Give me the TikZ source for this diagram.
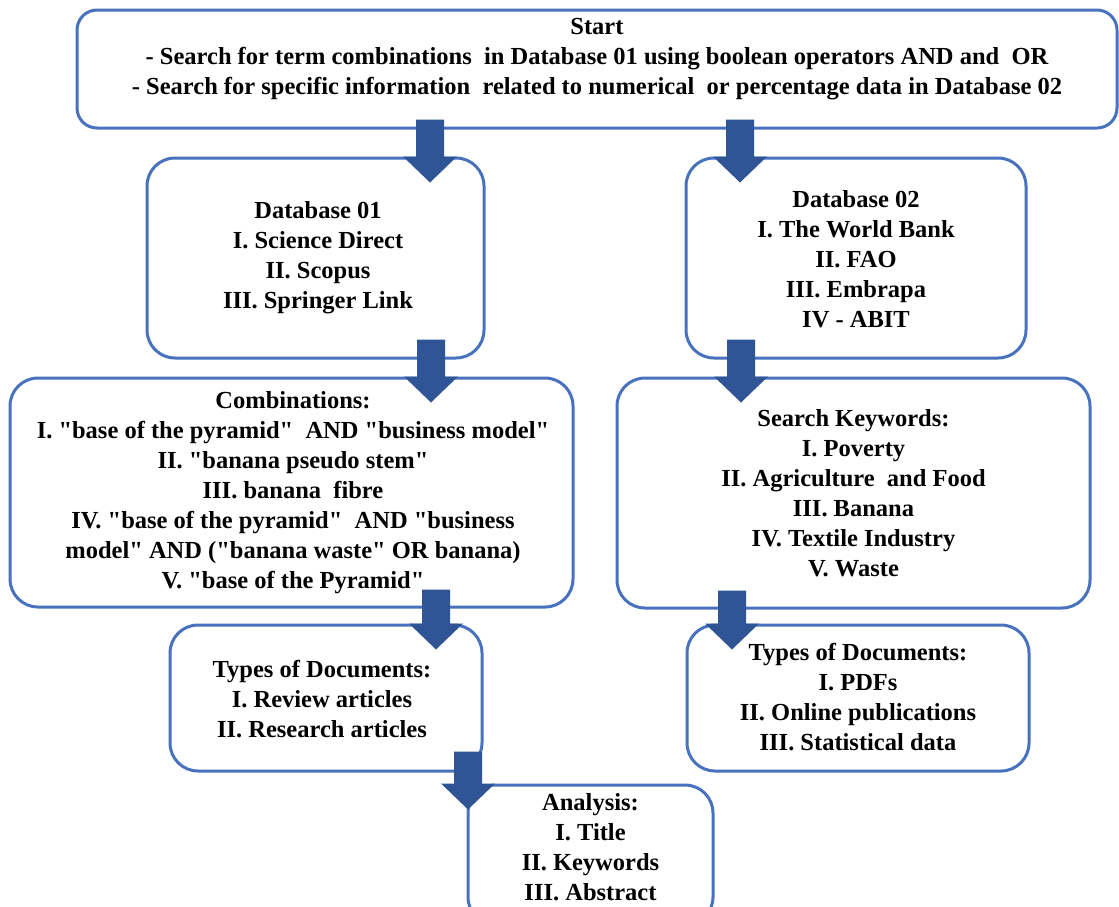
\documentclass[tikz,border=0pt]{standalone}
\usepackage{fontspec}
\setmainfont{Liberation Serif}[Ligatures=TeXOff]
\usetikzlibrary{calc}
\definecolor{boxline}{RGB}{72,114,190}
\definecolor{arrowfill}{RGB}{47,85,151}
\newcommand\dq{\char34\relax}
\tikzset{
  box/.style={draw=boxline, line width=3pt, rounded corners=28pt, fill=white, inner sep=0pt},
  txt/.style={align=center, font=\fontsize{24.5}{30}\selectfont\bfseries, inner sep=0pt, text=black},
  blockarrow/.style={fill=arrowfill},
}
\newcommand\blockarr[4]{%
  \fill[blockarrow] let \p1=(#2.south), \p2=(#3.north) in
  (#1pt-14pt,\y1+#4pt) -- (#1pt+14pt,\y1+#4pt) -- (#1pt+14pt,\y2) -- (#1pt+27pt,\y2)
  -- (#1pt,\y2-26pt) -- (#1pt-27pt,\y2) -- (#1pt-14pt,\y2) -- cycle;}
\begin{document}
\begin{tikzpicture}[x=1pt,y=-1pt]
\useasboundingbox (0,0) rectangle (1119,906);
\fill[white] (0,0) rectangle (1119,906);
\clip (0,0) rectangle (1119,906);

\node[box, rounded corners=20pt, minimum width=1040pt, minimum height=118pt] (start) at (597,69) {};
\node[box, minimum width=337pt, minimum height=200pt] (db1) at (315.5,258) {};
\node[box, minimum width=340pt, minimum height=200pt] (db2) at (856,258) {};
\node[box, minimum width=563pt, minimum height=229pt] (comb) at (291.5,492.5) {};
\node[box, minimum width=473pt, minimum height=230pt] (kw) at (853.5,493) {};
\node[box, minimum width=312pt, minimum height=146pt] (types1) at (326,698) {};
\node[box, minimum width=342pt, minimum height=146pt] (types2) at (858,698) {};
\node[box, minimum width=245pt, minimum height=140pt] (ana) at (590.5,855) {};

\node[txt] (tstart) at (597,59.5) {Start\\- Search for term combinations~ in Database 01 using boolean operators AND and~ OR\\- Search for specific information~ related to numerical~ or percentage data in Database 02};
\node[txt] (tdb1) at (318,258) {Database 01\\I. Science Direct\\II. Scopus\\III. Springer Link};
\node[txt] (tdb2) at (856,259) {Database 02\\I. The World Bank\\II. FAO\\III. Embrapa\\IV - ABIT};
\node[txt] (tcomb) at (293,493) {Combinations:\\I. \dq base of the pyramid\dq~ AND \dq business model\dq\\II. \dq banana pseudo stem\dq\\III. banana~ fibre\\IV. \dq base of the pyramid\dq~ AND \dq business\\model\dq{} AND (\dq banana waste\dq{} OR banana)\\V. \dq base of the Pyramid\dq};
\node[txt] (tkw) at (853.5,493) {Search Keywords:\\I. Poverty\\II. Agriculture~ and Food\\III. Banana\\IV. Textile Industry\\V. Waste};
\node[txt] (ttypes1) at (322,699) {Types of Documents:\\I. Review articles\\II. Research articles};
\node[txt] (ttypes2) at (858,697) {Types of Documents:\\I. PDFs\\II. Online publications\\III. Statistical data};
\node[txt] (tana) at (590.5,847) {Analysis:\\I. Title\\II. Keywords\\III. Abstract};

\blockarr{430}{start}{db1}{10}
\blockarr{740}{start}{db2}{10}
\blockarr{431}{db1}{comb}{20}
\blockarr{741}{db2}{kw}{20}
\blockarr{436}{comb}{types1}{19}
\blockarr{732}{kw}{types2}{19}
\blockarr{468}{types1}{ana}{21}
\end{tikzpicture}
\end{document}
